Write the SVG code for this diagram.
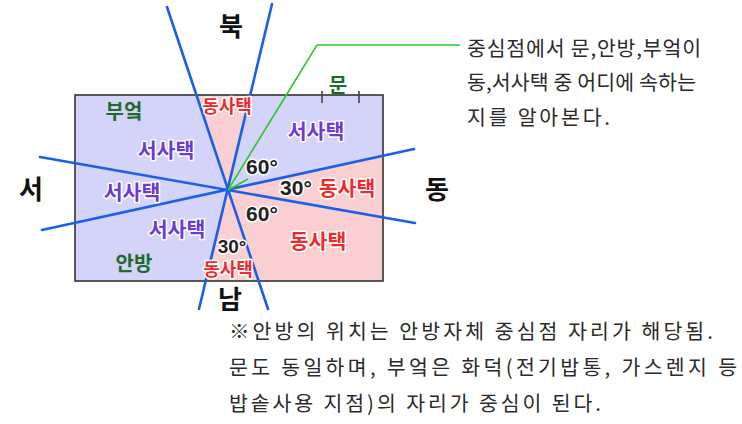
<svg xmlns="http://www.w3.org/2000/svg" width="742" height="424" viewBox="0 0 742 424">
<style>
text{font-family:"Noto Sans CJK KR","Noto Sans",sans-serif;dominant-baseline:central;text-anchor:middle}
.dir{font-size:26px;font-weight:700;fill:#111}
.lab{font-size:20.5px;font-weight:700;paint-order:stroke;stroke:#fff;stroke-width:3px;stroke-linejoin:round}
.west{fill:#6a3ad4}
.east{fill:#f02a2a}
.sm{font-size:18px}
.grn{fill:#1e6b2e;font-size:20px;font-weight:700}
.deg{font-family:"Liberation Sans",Arial,sans-serif;font-size:21px;font-weight:700;fill:#222;paint-order:stroke;stroke:#fff;stroke-width:3px}
.note{font-size:20.5px;fill:#2a2a2a;text-anchor:start}
.axis{stroke:#1a5fe6;stroke-width:2.6;fill:none;stroke-linecap:round}
</style>
<rect width="742" height="424" fill="#fff"/>
<g id="house">
<rect x="75" y="95" width="308" height="186" fill="#d4d4fa" stroke="none"/>
<polygon points="196.3,95 250.5,95 228,190" fill="#f9cfd1"/>
<polygon points="228,190 383,156.2 383,281 206.5,281" fill="#f9cfd1"/>
<rect x="75" y="95" width="308" height="186" fill="none" stroke="#333" stroke-width="1.6"/>
</g>
<g id="door">
<line x1="322" y1="91" x2="322" y2="103" stroke="#444" stroke-width="1.6"/>
<line x1="359" y1="91" x2="359" y2="103" stroke="#444" stroke-width="1.6"/>
<text class="grn" x="338" y="84">문</text>
</g>
<g id="connectors">
<line class="axis" x1="167" y1="7" x2="268" y2="309"/>
<line class="axis" x1="272" y1="4" x2="199" y2="309"/>
<line class="axis" x1="40" y1="157" x2="415" y2="223"/>
<line class="axis" x1="42" y1="230" x2="414" y2="149"/>
<polyline points="228,190 317,45 460,45" fill="none" stroke="#2ec82e" stroke-width="1.6"/>
<line x1="228" y1="190" x2="248" y2="179" stroke="#2ec82e" stroke-width="1.6"/>
</g>
<g id="labels">
<text class="grn" x="124" y="110">부엌</text>
<text class="grn" x="134" y="262">안방</text>
<text class="lab east sm" x="227" y="105">동사택</text>
<text class="lab west" x="316" y="130">서사택</text>
<text class="lab west" x="166" y="149">서사택</text>
<text class="lab west" x="132" y="191">서사택</text>
<text class="lab west" x="177" y="228">서사택</text>
<text class="lab east" x="347" y="187">동사택</text>
<text class="lab east" x="318" y="240">동사택</text>
<text class="lab east sm" x="228" y="268">동사택</text>
<text class="deg" x="262" y="166">60°</text>
<text class="deg" x="296" y="187">30°</text>
<text class="deg" x="262" y="213">60°</text>
<text class="deg" x="232" y="246" style="font-size:19px">30°</text>
</g>
<g id="directions">
<text class="dir" x="231" y="24">북</text>
<text class="dir" x="31" y="187">서</text>
<text class="dir" x="437" y="187">동</text>
<text class="dir" x="230" y="297">남</text>
</g>
<g id="note-top">
<text class="note" x="467" y="47" textLength="234" lengthAdjust="spacing">중심점에서 문,안방,부엌이</text>
<text class="note" x="467" y="81" textLength="229" lengthAdjust="spacing">동,서사택 중 어디에 속하는</text>
<text class="note" x="467" y="116" textLength="143" lengthAdjust="spacing">지를 알아본다.</text>
</g>
<g id="note-bottom">
<text class="note" x="229" y="330" textLength="484" lengthAdjust="spacing">※안방의 위치는 안방자체 중심점 자리가 해당됨.</text>
<text class="note" x="229" y="366" textLength="508" lengthAdjust="spacing">문도 동일하며, 부엌은 화덕(전기밥통, 가스렌지 등</text>
<text class="note" x="229" y="402" textLength="372" lengthAdjust="spacing">밥솥사용 지점)의 자리가 중심이 된다.</text>
</g>
</svg>
